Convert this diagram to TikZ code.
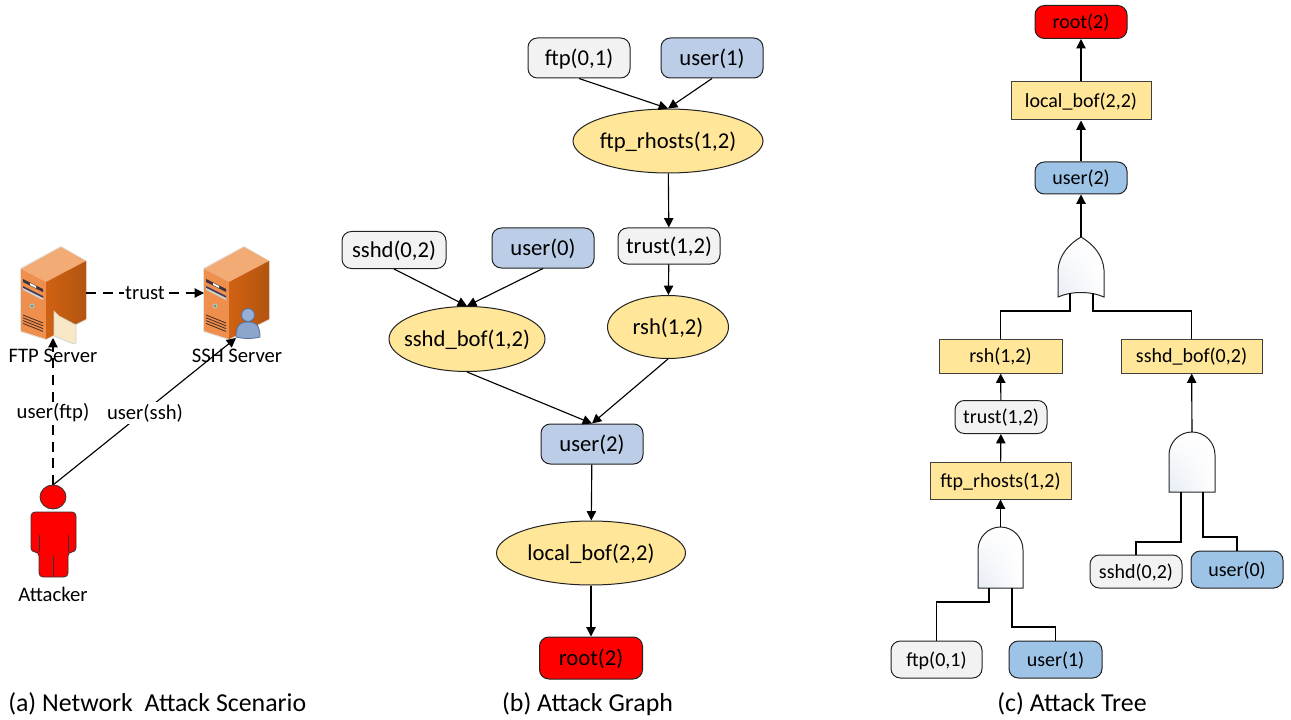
\documentclass[tikz,border=0pt]{standalone}
\usepackage{fontspec}
\setmainfont{Carlito}
\usetikzlibrary{arrows.meta,shapes.geometric,shadings}
\definecolor{yel}{HTML}{FFE699}
\definecolor{gry}{HTML}{F2F2F2}
\definecolor{blA}{HTML}{BBCDE7}
\definecolor{blB}{HTML}{9DC3E6}
\definecolor{lineC}{HTML}{222222}
\definecolor{srvTop}{HTML}{F3AB76}
\definecolor{srvLeft}{HTML}{EE8F4E}
\definecolor{srvR1}{HTML}{D06212}
\definecolor{srvR2}{HTML}{B25410}
\definecolor{srvEdge}{HTML}{E4E4E4}
\definecolor{slotA}{HTML}{3C323C}
\definecolor{slotB}{HTML}{3C3C5A}
\definecolor{slotC}{HTML}{D0D0D0}
\definecolor{led}{HTML}{5AA078}
\definecolor{grill}{HTML}{46281E}
\definecolor{folder}{HTML}{F8E8C6}
\definecolor{icoA}{HTML}{8CA5CD}
\definecolor{icoB}{HTML}{96AFD7}
\definecolor{icoE}{HTML}{556E9B}
\definecolor{gatelow}{HTML}{E6EBF4}
\newcommand{\ztext}[1]{\makebox[0pt][c]{#1}}
\tikzset{
  tip/.style={-{Triangle[length=7pt,width=7pt]}},
  wire/.style={line width=.85pt,draw=black},
  conn/.style={wire,tip},
  gtext/.style={font=\fontsize{17}{19}\selectfont,text height=13pt,text depth=2pt},
  ttext/.style={font=\fontsize{15}{17}\selectfont,text height=11.5pt,text depth=1.5pt},
  ltext/.style={font=\fontsize{15.5}{17}\selectfont},
  captext/.style={font=\fontsize{19.4}{22}\selectfont},
  rbox/.style 2 args={draw=lineC,line width=.75pt,rounded corners=7pt,inner sep=0pt,minimum width=#1*.75pt,minimum height=#2*.75pt},
  sbox/.style 2 args={draw=black!75,line width=.75pt,inner sep=0pt,minimum width=#1*.75pt,minimum height=#2*.75pt,fill=yel},
  ell/.style 2 args={ellipse,draw=lineC,line width=.75pt,inner sep=0pt,minimum width=#1*.75pt,minimum height=#2*.75pt,fill=yel},
  gateshade/.style={lower left=gatelow,upper right=white,lower right=white,upper left=white,draw=black!85,line width=.75pt},
  serverpic/.pic={
    \fill[srvEdge] (61,246)--(87,261)--(87,320)--(46,340)--(20,332)--(20,268)--cycle;
    \fill[srvTop] (61,247)--(86,261)--(46,282)--(21,269)--cycle;
    \fill[srvLeft] (21,269)--(46,282)--(46,339)--(21,331)--cycle;
    \shade[left color=srvR1,right color=srvR2] (46,282)--(86,261)--(86,319)--(46,339)--cycle;
    \fill[slotA] (23,279)--(43,289)--(43,292)--(23,282)--cycle;
    \fill[white] (30,283)--(36,286)--(36,288)--(30,285)--cycle;
    \fill[slotB] (23,286)--(43,296)--(43,298)--(23,288)--cycle;
    \fill[slotC] (23,288)--(43,298)--(43,300)--(23,290)--cycle;
    \fill[led,draw=slotC,line width=.5pt] (32,306) circle[radius=2];
    \foreach \k in {0,1,2,3} \draw[grill,line width=.6pt] (23,315+2.8*\k)--(43,323+2.8*\k);
  }
}
\begin{document}
\begin{tikzpicture}[x=.75pt,y=-.75pt]
\useasboundingbox (0,0) rectangle (1291,720);
\fill[white] (0,0) rectangle (1291,720);

% --- (a) scenario ---
\pic at (0,0) {serverpic};
\pic at (183,0) {serverpic};
% folder
\fill[folder,draw=slotC,line width=.5pt] (54,311)--(59,316)--(76,325)--(76,343)--(74,344)--(54,336)--cycle;
% user icon
\fill[icoA,draw=icoE,line width=.6pt] (236,337) .. controls (236,322) and (243,322) .. (248,322) .. controls (253,322) and (260,322) .. (260,337) .. controls (252,339) and (244,339) .. (236,337) -- cycle;
\fill[icoB,draw=icoE,line width=.6pt] (248,315) circle[radius=6.5];

\coordinate (ftpE) at (86,293);
\coordinate (sshW) at (204,293);
\coordinate (ftpS) at (53,338);
\coordinate (sshS) at (236,338);
\coordinate (atk) at (53,485);

\draw[conn,dash pattern=on 7.5pt off 5pt] (ftpE) -- (sshW) node[midway,fill=white,inner sep=1pt,ltext] (ltrust) {trust};
\draw[conn,dash pattern=on 7.5pt off 5pt] (atk) -- (ftpS);
\draw[conn] (atk) -- (sshS);
\node[ltext] (nftp) at (53,356) {FTP Server};
\node[ltext] (nssh) at (237,356) {SSH Server};
\node[ltext,fill=white,inner sep=1.5pt] (luf) at (53,413) {user(ftp)};
\node[ltext,fill=white,inner sep=1.5pt] (lus) at (145,413) {user(ssh)};
% attacker
\fill[red,draw=black!80,line width=.6pt] (53,497) ellipse[x radius=13,y radius=12];
\draw[fill=red,draw=black!80,line width=.6pt,rounded corners=3pt] (39,577)--(39,552)--(31,552)--(31,512)--(76,512)--(76,552)--(68,552)--(68,577)--cycle;
\draw[black!80,line width=.6pt] (39,535)--(39,552) (68,535)--(68,552) (53,556)--(53,577);
\node[ltext] (natk) at (53,594) {Attacker};
\node[captext,anchor=west,inner sep=0pt] (capa) at (8,704) {(a) Network\ \ Attack Scenario};

% --- (b) attack graph ---
\node[rbox={102}{40},fill=gry,gtext] (gftp) at (579,58) {ftp(0,1)};
\node[rbox={102}{40},fill=blA,gtext] (gu1) at (712,58) {user(1)};
\node[ell={190}{64},gtext] (grh) at (668,141) {\ztext{ftp\_rhosts(1,2)}};
\node[rbox={102}{36},fill=gry,gtext] (gtr) at (669,246) {trust(1,2)};
\node[rbox={104}{37},fill=gry,gtext] (gss) at (394,250) {sshd(0,2)};
\node[rbox={102}{40},fill=blA,gtext] (gu0) at (543,248) {user(0)};
\node[ell={156}{65},gtext] (gbof) at (467,339) {\ztext{sshd\_bof(1,2)}};
\node[ell={121}{63},gtext] (grsh) at (668,327) {\ztext{rsh(1,2)}};
\node[rbox={102}{40},fill=blA,gtext] (gu2) at (592,444) {user(2)};
\node[ell={189}{64},gtext] (gloc) at (591,553) {\ztext{local\_bof(2,2)}};
\node[rbox={103}{42},fill=red,gtext] (grt) at (591,658) {root(2)};
\draw[conn] (gftp.south) -- (grh.north);
\draw[conn] (gu1.south) -- (grh.north);
\draw[conn] (grh) -- (gtr);
\draw[conn] (gtr) -- (grsh);
\draw[conn] (gss.south) -- (gbof.north);
\draw[conn] (gu0.south) -- (gbof.north);
\draw[conn] (gbof.south) -- (gu2.north);
\draw[conn] (grsh.south) -- (gu2.north);
\draw[conn] (gu2) -- (gloc);
\draw[conn] (gloc) -- (grt);
\node[captext] (capb) at (587.5,704) {(b) Attack Graph};

% --- (c) attack tree ---
\node[rbox={92}{33},fill=red,ttext] (trt) at (1081,22) {root(2)};
\node[sbox={140}{38},ttext] (tloc) at (1081,101) {local\_bof(2,2)};
\node[rbox={92}{32},fill=blB,ttext] (tu2) at (1081,178) {user(2)};
\node[sbox={123}{34},ttext] (trsh) at (1000.5,356) {rsh(1,2)};
\node[sbox={141}{34},ttext] (tbof) at (1191.5,356) {sshd\_bof(0,2)};
\node[rbox={92}{33},fill=gry,ttext] (ttr) at (1001,417) {trust(1,2)};
\node[sbox={141}{37},ttext] (trh) at (1000.5,480.5) {ftp\_rhosts(1,2)};
\node[rbox={91}{37},fill=gry,ttext] (tftp) at (936.5,659.5) {ftp(0,1)};
\node[rbox={93}{37},fill=blB,ttext] (tu1) at (1055.5,659.5) {user(1)};
\node[rbox={92}{33},fill=gry,ttext] (tss) at (1136,571.5) {sshd(0,2)};
\node[rbox={92}{37},fill=blB,ttext] (tu0) at (1237,569.5) {user(0)};
\node[captext] (capc) at (1072,704) {(c) Attack Tree};

\coordinate (orT) at (1081,237);
\coordinate (orL) at (1070,293);
\coordinate (orR) at (1093,293);
\coordinate (a1T) at (1000.5,527);
\coordinate (a1L) at (989,588);
\coordinate (a1R) at (1012,588);
\coordinate (a2T) at (1192,432);
\coordinate (a2L) at (1181,492);
\coordinate (a2R) at (1203,492);

% gates
\shade[gateshade]
  (1058,297) -- (1058,270) .. controls (1059,255) and (1069,244) .. (orT) .. controls (1093,244) and (1103,255) .. (1104,270) -- (1104,297) .. controls (1090,291) and (1072,291) .. cycle;
\shade[gateshade]
  (978,588) -- (978,550) arc[start angle=180,end angle=360,x radius=22.5,y radius=23] -- (1023,588) -- cycle;
\shade[gateshade]
  (1169,492) -- (1169,455) arc[start angle=180,end angle=360,x radius=23,y radius=23] -- (1215,492) -- cycle;

\draw[conn] (tu2) -- (tloc);
\draw[conn] (tloc) -- (trt);
\draw[conn] (orT) -- (tu2);
\draw[wire] (trsh.north) |- (1070,311) -- (orL);
\draw[wire] (tbof.north) |- (1093,311) -- (orR);
\draw[conn] (ttr) -- (trsh);
\draw[conn] (trh) -- (ttr);
\draw[conn] (a1T) -- (trh);
\draw[conn] (a2T) -- (tbof);
\draw[wire] (tftp.north) |- (989,602) -- (a1L);
\draw[wire] (tu1.north) |- (1012,627) -- (a1R);
\draw[wire] (tss.north) |- (1181,542) -- (a2L);
\draw[wire] (tu0.north) |- (1203,537) -- (a2R);
\end{tikzpicture}
\end{document}
